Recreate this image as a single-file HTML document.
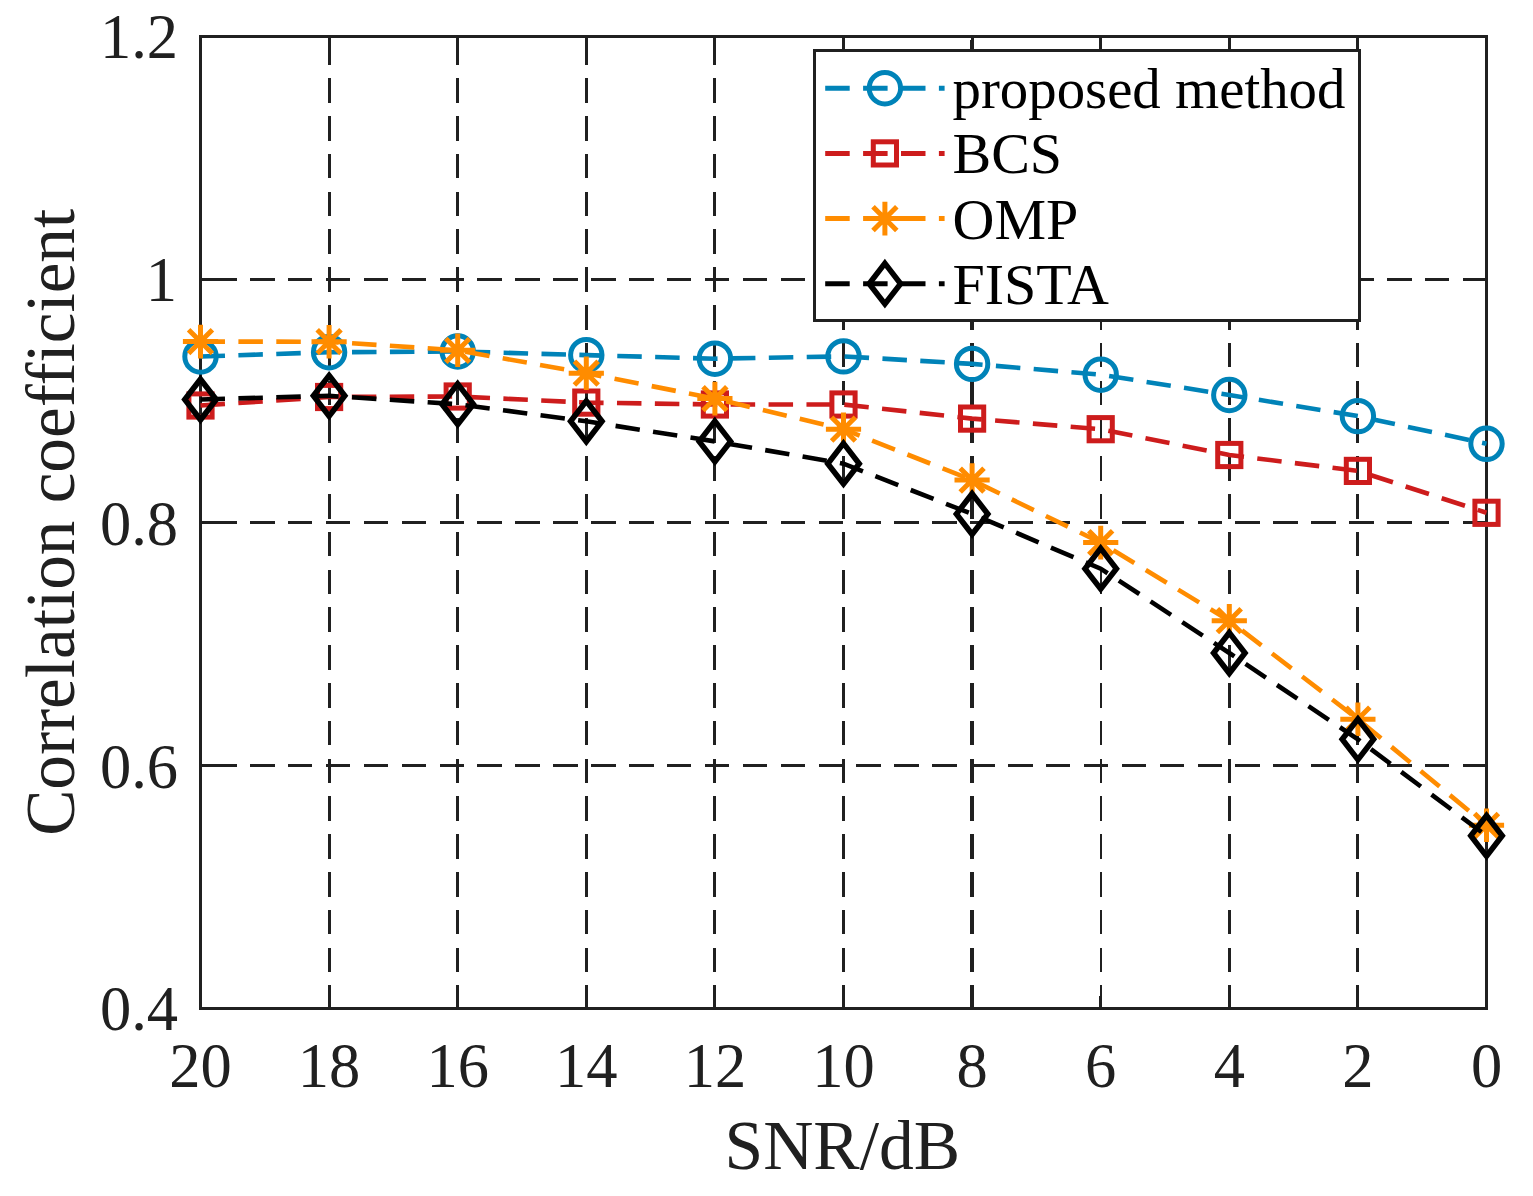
<!DOCTYPE html>
<html lang="en"><head><meta charset="utf-8"><title>Correlation coefficient vs SNR</title>
<style>
html,body{margin:0;padding:0;background:#fff;}
body{width:1533px;height:1196px;overflow:hidden;}
svg{display:block;}
text{font-family:"Liberation Serif","Times New Roman",serif;font-variant-ligatures:none;}
.tick{font-size:62.5px;fill:#202020;}
.lab{font-size:69.5px;fill:#202020;}
.leg{font-size:58px;fill:#000;}
</style></head><body>
<svg width="1533" height="1196" viewBox="0 0 1533 1196">
<rect width="1533" height="1196" fill="#fff"/>
<g stroke="#202020" stroke-width="3.1" fill="none" stroke-dasharray="24.5 13.4" shape-rendering="crispEdges">
<path d="M329.1 36.5V1008.5" stroke-dasharray="24.5 13.3" stroke-dashoffset="-3.9"/>
<path d="M457.7 36.5V1008.5" stroke-dasharray="24.5 13.3" stroke-dashoffset="-3.9"/>
<path d="M586.3 36.5V1008.5" stroke-dasharray="24.5 13.3" stroke-dashoffset="-3.9"/>
<path d="M714.9 36.5V1008.5" stroke-dasharray="24.5 13.3" stroke-dashoffset="-3.9"/>
<path d="M843.5 36.5V1008.5" stroke-dasharray="24.5 13.3" stroke-dashoffset="-3.9"/>
<path d="M972.1 36.5V1008.5" stroke-dasharray="24.5 13.3" stroke-dashoffset="-3.9" stroke-width="3.5"/>
<path d="M1100.7 36.5V1008.5" stroke-dasharray="24.5 13.3" stroke-dashoffset="-3.9" stroke-width="2.2"/>
<path d="M1229.3 36.5V1008.5" stroke-dasharray="24.5 13.3" stroke-dashoffset="-3.9"/>
<path d="M1357.9 36.5V1008.5" stroke-dasharray="24.5 13.3" stroke-dashoffset="-3.9"/>
<path d="M200.5 279.5H1486.5" stroke-dashoffset="-11.6"/>
<path d="M200.5 522.5H1486.5" stroke-dashoffset="-11.6"/>
<path d="M200.5 765.5H1486.5" stroke-dashoffset="-11.6"/>
</g>
<path d="M329.1 36.5v12.9M329.1 1008.5v-12.9M457.7 36.5v12.9M457.7 1008.5v-12.9M586.3 36.5v12.9M586.3 1008.5v-12.9M714.9 36.5v12.9M714.9 1008.5v-12.9M843.5 36.5v12.9M843.5 1008.5v-12.9M972.1 36.5v12.9M972.1 1008.5v-12.9M1100.7 36.5v12.9M1100.7 1008.5v-12.9M1229.3 36.5v12.9M1229.3 1008.5v-12.9M1357.9 36.5v12.9M1357.9 1008.5v-12.9M200.5 279.5h12.9M1486.5 279.5h-12.9M200.5 522.5h12.9M1486.5 522.5h-12.9M200.5 765.5h12.9M1486.5 765.5h-12.9" fill="none" stroke="#202020" stroke-width="3.1" shape-rendering="crispEdges"/>
<rect x="200.5" y="36.5" width="1286.0" height="972.0" fill="none" stroke="#202020" stroke-width="3.2" shape-rendering="crispEdges"/>
<polyline points="200.5,356.5 329.1,352.2 457.7,351.5 586.3,355.1 714.9,358.7 843.5,356.4 972.1,363.9 1100.7,374.7 1229.3,395.0 1357.9,416.1 1486.5,443.8" fill="none" stroke="#0083B8" stroke-width="4.6" stroke-dasharray="24.5 13.4"/>
<circle cx="200.5" cy="356.5" r="15.7" fill="none" stroke="#0083B8" stroke-width="5.0"/>
<circle cx="329.1" cy="352.2" r="15.7" fill="none" stroke="#0083B8" stroke-width="5.0"/>
<circle cx="457.7" cy="351.5" r="15.7" fill="none" stroke="#0083B8" stroke-width="5.0"/>
<circle cx="586.3" cy="355.1" r="15.7" fill="none" stroke="#0083B8" stroke-width="5.0"/>
<circle cx="714.9" cy="358.7" r="15.7" fill="none" stroke="#0083B8" stroke-width="5.0"/>
<circle cx="843.5" cy="356.4" r="15.7" fill="none" stroke="#0083B8" stroke-width="5.0"/>
<circle cx="972.1" cy="363.9" r="15.7" fill="none" stroke="#0083B8" stroke-width="5.0"/>
<circle cx="1100.7" cy="374.7" r="15.7" fill="none" stroke="#0083B8" stroke-width="5.0"/>
<circle cx="1229.3" cy="395.0" r="15.7" fill="none" stroke="#0083B8" stroke-width="5.0"/>
<circle cx="1357.9" cy="416.1" r="15.7" fill="none" stroke="#0083B8" stroke-width="5.0"/>
<circle cx="1486.5" cy="443.8" r="15.7" fill="none" stroke="#0083B8" stroke-width="5.0"/>
<polyline points="200.5,405.5 329.1,397.0 457.7,396.5 586.3,402.6 714.9,404.5 843.5,404.5 972.1,418.6 1100.7,429.2 1229.3,455.0 1357.9,470.9 1486.5,512.8" fill="none" stroke="#CD1C1C" stroke-width="4.6" stroke-dasharray="24.5 13.4"/>
<rect x="188.9" y="393.9" width="23.2" height="23.2" fill="none" stroke="#CD1C1C" stroke-width="5.0"/>
<rect x="317.5" y="385.4" width="23.2" height="23.2" fill="none" stroke="#CD1C1C" stroke-width="5.0"/>
<rect x="446.1" y="384.9" width="23.2" height="23.2" fill="none" stroke="#CD1C1C" stroke-width="5.0"/>
<rect x="574.7" y="391.0" width="23.2" height="23.2" fill="none" stroke="#CD1C1C" stroke-width="5.0"/>
<rect x="703.3" y="392.9" width="23.2" height="23.2" fill="none" stroke="#CD1C1C" stroke-width="5.0"/>
<rect x="831.9" y="392.9" width="23.2" height="23.2" fill="none" stroke="#CD1C1C" stroke-width="5.0"/>
<rect x="960.5" y="407.0" width="23.2" height="23.2" fill="none" stroke="#CD1C1C" stroke-width="5.0"/>
<rect x="1089.1" y="417.6" width="23.2" height="23.2" fill="none" stroke="#CD1C1C" stroke-width="5.0"/>
<rect x="1217.7" y="443.4" width="23.2" height="23.2" fill="none" stroke="#CD1C1C" stroke-width="5.0"/>
<rect x="1346.3" y="459.3" width="23.2" height="23.2" fill="none" stroke="#CD1C1C" stroke-width="5.0"/>
<rect x="1474.9" y="501.2" width="23.2" height="23.2" fill="none" stroke="#CD1C1C" stroke-width="5.0"/>
<polyline points="200.5,341.6 329.1,341.7 457.7,350.3 586.3,373.2 714.9,398.6 843.5,429.2 972.1,480.1 1100.7,542.6 1229.3,620.7 1357.9,719.2 1486.5,825.3" fill="none" stroke="#FF8C00" stroke-width="4.6" stroke-dasharray="24.5 13.4"/>
<path d="M182.9 341.6H218.1M200.5 324.8V358.4M188.6 329.7L212.4 353.5M188.6 353.5L212.4 329.7" fill="none" stroke="#FF8C00" stroke-width="5.0"/>
<path d="M311.5 341.7H346.7M329.1 324.9V358.5M317.2 329.8L341.0 353.6M317.2 353.6L341.0 329.8" fill="none" stroke="#FF8C00" stroke-width="5.0"/>
<path d="M440.1 350.3H475.3M457.7 333.5V367.1M445.8 338.4L469.6 362.2M445.8 362.2L469.6 338.4" fill="none" stroke="#FF8C00" stroke-width="5.0"/>
<path d="M568.7 373.2H603.9M586.3 356.4V390.0M574.4 361.3L598.2 385.1M574.4 385.1L598.2 361.3" fill="none" stroke="#FF8C00" stroke-width="5.0"/>
<path d="M697.3 398.6H732.5M714.9 381.8V415.4M703.0 386.7L726.8 410.5M703.0 410.5L726.8 386.7" fill="none" stroke="#FF8C00" stroke-width="5.0"/>
<path d="M825.9 429.2H861.1M843.5 412.4V446.0M831.6 417.3L855.4 441.1M831.6 441.1L855.4 417.3" fill="none" stroke="#FF8C00" stroke-width="5.0"/>
<path d="M954.5 480.1H989.7M972.1 463.3V496.9M960.2 468.2L984.0 492.0M960.2 492.0L984.0 468.2" fill="none" stroke="#FF8C00" stroke-width="5.0"/>
<path d="M1083.1 542.6H1118.3M1100.7 525.8V559.4M1088.8 530.7L1112.6 554.5M1088.8 554.5L1112.6 530.7" fill="none" stroke="#FF8C00" stroke-width="5.0"/>
<path d="M1211.7 620.7H1246.9M1229.3 603.9V637.5M1217.4 608.8L1241.2 632.6M1217.4 632.6L1241.2 608.8" fill="none" stroke="#FF8C00" stroke-width="5.0"/>
<path d="M1340.3 719.2H1375.5M1357.9 702.4V736.0M1346.0 707.3L1369.8 731.1M1346.0 731.1L1369.8 707.3" fill="none" stroke="#FF8C00" stroke-width="5.0"/>
<path d="M1468.9 825.3H1504.1M1486.5 808.5V842.1M1474.6 813.4L1498.4 837.2M1474.6 837.2L1498.4 813.4" fill="none" stroke="#FF8C00" stroke-width="5.0"/>
<polyline points="200.5,399.5 329.1,395.8 457.7,404.2 586.3,421.3 714.9,441.4 843.5,463.7 972.1,514.0 1100.7,568.7 1229.3,653.0 1357.9,739.3 1486.5,835.8" fill="none" stroke="#000000" stroke-width="4.6" stroke-dasharray="24.5 13.4"/>
<path d="M200.5 379.2L216.2 399.5L200.5 419.8L184.8 399.5Z" fill="none" stroke="#000000" stroke-width="5.6" stroke-miterlimit="10"/>
<path d="M329.1 375.5L344.8 395.8L329.1 416.1L313.4 395.8Z" fill="none" stroke="#000000" stroke-width="5.6" stroke-miterlimit="10"/>
<path d="M457.7 383.9L473.4 404.2L457.7 424.5L442.0 404.2Z" fill="none" stroke="#000000" stroke-width="5.6" stroke-miterlimit="10"/>
<path d="M586.3 401.0L602.0 421.3L586.3 441.6L570.6 421.3Z" fill="none" stroke="#000000" stroke-width="5.6" stroke-miterlimit="10"/>
<path d="M714.9 421.1L730.6 441.4L714.9 461.7L699.2 441.4Z" fill="none" stroke="#000000" stroke-width="5.6" stroke-miterlimit="10"/>
<path d="M843.5 443.4L859.2 463.7L843.5 484.0L827.8 463.7Z" fill="none" stroke="#000000" stroke-width="5.6" stroke-miterlimit="10"/>
<path d="M972.1 493.7L987.8 514.0L972.1 534.3L956.4 514.0Z" fill="none" stroke="#000000" stroke-width="5.6" stroke-miterlimit="10"/>
<path d="M1100.7 548.4L1116.4 568.7L1100.7 589.0L1085.0 568.7Z" fill="none" stroke="#000000" stroke-width="5.6" stroke-miterlimit="10"/>
<path d="M1229.3 632.7L1245.0 653.0L1229.3 673.3L1213.6 653.0Z" fill="none" stroke="#000000" stroke-width="5.6" stroke-miterlimit="10"/>
<path d="M1357.9 719.0L1373.6 739.3L1357.9 759.6L1342.2 739.3Z" fill="none" stroke="#000000" stroke-width="5.6" stroke-miterlimit="10"/>
<path d="M1486.5 815.5L1502.2 835.8L1486.5 856.1L1470.8 835.8Z" fill="none" stroke="#000000" stroke-width="5.6" stroke-miterlimit="10"/>
<rect x="814.4" y="50.7" width="545.1" height="269.8" fill="#fff" stroke="#202020" stroke-width="3.1" shape-rendering="crispEdges"/>
<path d="M825.2 88.2H944.6" fill="none" stroke="#0083B8" stroke-width="5.0" stroke-dasharray="24.5 13.4"/>
<circle cx="884.9" cy="88.2" r="15.7" fill="none" stroke="#0083B8" stroke-width="5.0"/>
<text class="leg" x="952.5" y="108.2" textLength="392.9" lengthAdjust="spacingAndGlyphs">proposed method</text>
<path d="M825.2 153.4H944.6" fill="none" stroke="#CD1C1C" stroke-width="5.0" stroke-dasharray="24.5 13.4"/>
<rect x="873.3" y="141.8" width="23.2" height="23.2" fill="none" stroke="#CD1C1C" stroke-width="5.0"/>
<text class="leg" x="952.5" y="173.4">BCS</text>
<path d="M825.2 218.6H944.6" fill="none" stroke="#FF8C00" stroke-width="5.0" stroke-dasharray="24.5 13.4"/>
<path d="M867.3 218.6H902.5M884.9 201.8V235.4M873.0 206.7L896.8 230.5M873.0 230.5L896.8 206.7" fill="none" stroke="#FF8C00" stroke-width="5.0"/>
<text class="leg" x="952.5" y="238.6">OMP</text>
<path d="M825.2 283.7H944.6" fill="none" stroke="#000000" stroke-width="5.0" stroke-dasharray="24.5 13.4"/>
<path d="M884.9 263.4L900.6 283.7L884.9 304.0L869.2 283.7Z" fill="none" stroke="#000000" stroke-width="5.6" stroke-miterlimit="10"/>
<text class="leg" x="952.5" y="303.7">FISTA</text>
<text class="tick" x="200.5" y="1087" text-anchor="middle">20</text>
<text class="tick" x="329.1" y="1087" text-anchor="middle">18</text>
<text class="tick" x="457.7" y="1087" text-anchor="middle">16</text>
<text class="tick" x="586.3" y="1087" text-anchor="middle">14</text>
<text class="tick" x="714.9" y="1087" text-anchor="middle">12</text>
<text class="tick" x="843.5" y="1087" text-anchor="middle">10</text>
<text class="tick" x="972.1" y="1087" text-anchor="middle">8</text>
<text class="tick" x="1100.7" y="1087" text-anchor="middle">6</text>
<text class="tick" x="1229.3" y="1087" text-anchor="middle">4</text>
<text class="tick" x="1357.9" y="1087" text-anchor="middle">2</text>
<text class="tick" x="1486.5" y="1087" text-anchor="middle">0</text>
<text class="tick" x="178" y="58.3" text-anchor="end">1.2</text>
<text class="tick" x="177" y="301.0" text-anchor="end">1</text>
<text class="tick" x="178" y="545.1" text-anchor="end">0.8</text>
<text class="tick" x="178" y="788.2" text-anchor="end">0.6</text>
<text class="tick" x="178" y="1030.0" text-anchor="end">0.4</text>
<text class="lab" x="842.3" y="1169.3" text-anchor="middle">SNR/dB</text>
<text class="lab" transform="translate(74 522.3) rotate(-90)" text-anchor="middle" textLength="627" lengthAdjust="spacingAndGlyphs">Correlation coefficient</text>
</svg></body></html>
